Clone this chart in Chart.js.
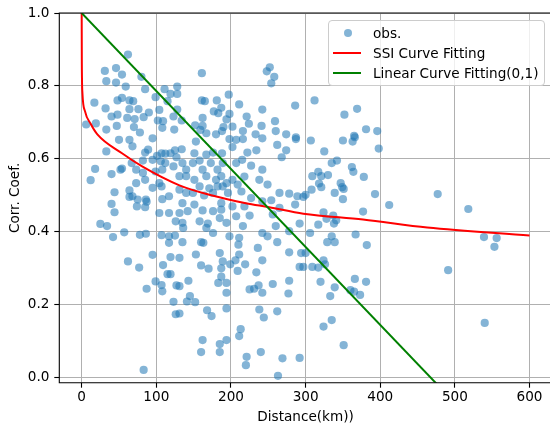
<!DOCTYPE html>
<html>
<head>
<meta charset="utf-8">
<script src="https://cdn.jsdelivr.net/npm/chart.js@4.4.0/dist/chart.umd.min.js"></script>
<style>
  html, body { margin: 0; padding: 0; background: #fff; overflow: hidden; }
  #wrap { position: relative; width: 550px; height: 428px; overflow: hidden; }
  #legend { position: absolute; left: 328px; top: 20px; width: 215px; height: 64px;
            border: 1px solid #cccccc; border-radius: 4px; background: rgba(255,255,255,0.8);
            font-family: 'DejaVu Sans'; font-size: 13.6px; color: #000; }
  #legend .row { position: absolute; left: 0; height: 20px; line-height: 20px; white-space: nowrap; }
  #legend .txt { position: absolute; left: 44px; top: 0; }
  #legend .dot { position: absolute; left: 15px; top: 6px; width: 8.2px; height: 8.2px; border-radius: 50%; }
  #legend .ln { position: absolute; left: 4px; top: 9px; width: 28px; height: 2px; }
</style>
</head>
<body>
<div id="wrap">
  <canvas id="chart" width="556" height="428"></canvas>
  <div id="legend"></div>
</div>
<script>
// observed correlation coefficient vs station distance
const obsDist = [
  62, 31, 46, 54, 80, 33, 46, 59, 85, 111, 119, 128, 99, 17, 48, 54, 64, 69, 32, 64,
  76, 90, 104, 115, 40, 48, 61, 71, 83, 102, 109, 123, 6, 19, 33, 47, 70, 78, 108, 124,
  161, 248, 252, 258, 254, 128, 128, 134, 197, 161, 165, 181, 187, 177, 183, 211, 242, 286, 198, 194,
  221, 224, 259, 162, 152, 162, 159, 190, 202, 188, 241, 216, 233, 260, 274, 287, 167, 180,
  312, 352, 369, 381, 396, 365,
  50, 64, 95, 68, 33, 85, 89, 82, 101, 107, 112, 119, 125, 127, 95, 106, 112, 123, 18, 12,
  40, 52, 54, 67, 73, 82, 85, 73, 95, 104, 107, 99, 108, 44, 64, 64, 68, 75, 74, 86,
  87, 85, 40, 44, 108, 117, 104, 117, 126, 25, 34, 42, 57, 78, 86, 107, 117, 117, 125, 95, 119,
  153, 134, 151, 167, 176, 188, 202, 222, 234, 262, 287, 274, 268, 198, 207, 216, 242, 135, 140, 149,
  158, 162, 173, 182, 189, 207, 215, 227, 242, 218, 238, 249, 265, 278, 289, 286, 131, 140, 151, 167,
  180, 187, 194, 202, 209, 158, 171, 182, 189, 131, 140, 149, 164, 176, 196, 214, 227, 242, 254, 135,
  151, 187, 202, 218, 256, 265, 131, 142, 162, 176, 187, 207, 225, 158, 135, 169, 185, 194, 216, 167,
  136, 260, 292, 176, 198, 211, 242, 249, 278, 135, 160, 163, 210, 236, 262, 153, 185, 211, 278, 294, 131,
  189, 206, 242,
  307, 350, 363, 366, 325, 398, 335, 342, 362, 364, 378, 309, 317, 321, 330, 318, 321, 308, 300, 297,
  339, 347, 349, 351, 350, 393, 412, 377, 324, 328, 337, 338, 341, 317, 306, 335, 329, 339, 367, 382,
  300, 324,
  477, 518, 539, 556, 553, 491, 540,
  62, 77, 87, 99, 107, 108, 109, 115, 119, 127, 123, 126, 83,
  160, 170, 187, 199, 209, 219, 234, 292, 131, 143, 183, 187, 194, 194, 225, 231, 237, 242, 256, 278,
  277, 145, 141, 152, 131, 168, 174, 194, 238, 244, 262, 213, 211, 162, 160, 185, 185, 194, 221, 220,
  240, 269, 292, 263,
  297, 309, 317, 326, 320, 339, 333, 366, 381, 360, 365, 373, 335, 324, 351
];
const obsCorr = [
  0.886, 0.841, 0.849, 0.831, 0.825, 0.813, 0.809, 0.798, 0.791, 0.791, 0.778, 0.798, 0.769, 0.754, 0.760, 0.767, 0.760, 0.758, 0.738, 0.736,
  0.736, 0.727, 0.734, 0.758, 0.716, 0.721, 0.712, 0.709, 0.714, 0.705, 0.703, 0.716, 0.694, 0.697, 0.680, 0.690, 0.687, 0.672, 0.685, 0.680,
  0.835, 0.840, 0.851, 0.825, 0.807, 0.778, 0.735, 0.705, 0.776, 0.760, 0.758, 0.760, 0.740, 0.730, 0.725, 0.749, 0.735, 0.746, 0.723, 0.708,
  0.716, 0.696, 0.703, 0.712, 0.692, 0.690, 0.679, 0.687, 0.688, 0.676, 0.690, 0.676, 0.667, 0.676, 0.667, 0.659, 0.670, 0.667,
  0.760, 0.721, 0.737, 0.681, 0.676, 0.663,
  0.652, 0.652, 0.656, 0.634, 0.620, 0.617, 0.625, 0.595, 0.608, 0.615, 0.614, 0.615, 0.623, 0.604, 0.597, 0.593, 0.588, 0.579, 0.572, 0.541,
  0.558, 0.570, 0.573, 0.588, 0.570, 0.561, 0.542, 0.533, 0.520, 0.533, 0.524, 0.565, 0.570, 0.508, 0.513, 0.495, 0.497, 0.488, 0.469, 0.488,
  0.482, 0.467, 0.476, 0.453, 0.489, 0.497, 0.451, 0.451, 0.428, 0.421, 0.415, 0.385, 0.398, 0.391, 0.394, 0.390, 0.369, 0.387, 0.389, 0.336, 0.330,
  0.647, 0.626, 0.615, 0.611, 0.617, 0.615, 0.632, 0.617, 0.623, 0.638, 0.654, 0.623, 0.604, 0.654, 0.652, 0.654, 0.656, 0.588, 0.570, 0.588,
  0.595, 0.570, 0.588, 0.570, 0.588, 0.588, 0.597, 0.581, 0.570, 0.551, 0.542, 0.529, 0.506, 0.504, 0.497, 0.474, 0.552, 0.552, 0.542, 0.552,
  0.542, 0.552, 0.533, 0.542, 0.529, 0.524, 0.519, 0.524, 0.524, 0.515, 0.506, 0.506, 0.499, 0.506, 0.506, 0.510, 0.492, 0.483, 0.486, 0.478,
  0.474, 0.478, 0.469, 0.469, 0.447, 0.465, 0.451, 0.456, 0.458, 0.456, 0.460, 0.442, 0.444, 0.428, 0.424, 0.422, 0.437, 0.424, 0.415, 0.410,
  0.410, 0.415, 0.422, 0.396, 0.387, 0.383, 0.396, 0.387, 0.401, 0.371, 0.371, 0.369, 0.364, 0.355, 0.371, 0.337, 0.341, 0.337, 0.343, 0.341, 0.328,
  0.318, 0.321, 0.321,
  0.650, 0.650, 0.647, 0.659, 0.620, 0.628, 0.588, 0.595, 0.577, 0.564, 0.550, 0.552, 0.564, 0.552, 0.555, 0.532, 0.522, 0.515, 0.501, 0.495,
  0.506, 0.533, 0.522, 0.517, 0.489, 0.503, 0.473, 0.455, 0.453, 0.435, 0.444, 0.422, 0.431, 0.419, 0.396, 0.387, 0.371, 0.371, 0.392, 0.363,
  0.341, 0.321,
  0.503, 0.462, 0.385, 0.382, 0.358, 0.294, 0.149,
  0.318, 0.301, 0.243, 0.263, 0.253, 0.236, 0.308, 0.283, 0.283, 0.252, 0.207, 0.173, 0.020,
  0.307, 0.298, 0.299, 0.310, 0.292, 0.310, 0.288, 0.303, 0.250, 0.265, 0.259, 0.276, 0.259, 0.232, 0.241, 0.243, 0.252, 0.232, 0.256, 0.265,
  0.230, 0.223, 0.208, 0.206, 0.175, 0.184, 0.168, 0.189, 0.186, 0.164, 0.181, 0.132, 0.113, 0.102, 0.069, 0.091, 0.069, 0.102, 0.056, 0.033,
  0.069, 0.052, 0.053, 0.004,
  0.303, 0.303, 0.301, 0.310, 0.262, 0.247, 0.223, 0.270, 0.262, 0.239, 0.235, 0.226, 0.157, 0.139, 0.088
];

// fitted curves
const ssiDist = [0, 0.2, 1, 4.5, 12, 21, 54, 81, 131, 175, 220, 251, 297, 377, 463, 600];
const ssiCorr = [1.0, 0.86, 0.78, 0.73, 0.696, 0.667, 0.615, 0.579, 0.527, 0.499, 0.478, 0.467, 0.449, 0.433, 0.411, 0.389];
const linDist = [0, 490];
const linCorr = [1.0, -0.049];

const xTickValues = [0, 100, 200, 300, 400, 500, 600];
const yTickValues = [0.0, 0.2, 0.4, 0.6, 0.8, 1.0];

const toPoints = (xs, ys) => xs.map((x, i) => ({ x: x, y: ys[i] }));

// black spines on left, top and bottom (the right one falls outside the picture)
const framePlugin = {
    id: 'frame',
    afterDatasetsDraw(chart) {
        const { ctx, chartArea: a } = chart;
        ctx.save();
        ctx.strokeStyle = '#000';
        ctx.lineWidth = 1.1;
        ctx.beginPath();
        ctx.moveTo(a.right + 5, a.top);
        ctx.lineTo(a.left, a.top);
        ctx.lineTo(a.left, a.bottom);
        ctx.lineTo(a.right + 5, a.bottom);
        ctx.stroke();
        ctx.restore();
    }
};

// html legend built from the datasets
const htmlLegend = {
    id: 'htmlLegend',
    afterUpdate(chart) {
        const box = document.getElementById('legend');
        box.innerHTML = '';
        chart.data.datasets.forEach((ds, i) => {
            const row = document.createElement('div');
            row.className = 'row';
            row.style.top = (2 + i * 19.8) + 'px';
            const mark = document.createElement('span');
            if (ds.showLine) {
                mark.className = 'ln';
                mark.style.background = ds.borderColor;
            } else {
                mark.className = 'dot';
                mark.style.background = ds.backgroundColor;
            }
            const txt = document.createElement('span');
            txt.className = 'txt';
            txt.textContent = ds.label;
            row.appendChild(mark);
            row.appendChild(txt);
            box.appendChild(row);
        });
    }
};

Chart.defaults.font.family = "'DejaVu Sans'";
Chart.defaults.font.size = 13.6;
Chart.defaults.color = '#000';

const ctx = document.getElementById('chart').getContext('2d');
new Chart(ctx, {
    type: 'scatter',
    data: {
        datasets: [
            {
                label: 'obs.',
                data: toPoints(obsDist, obsCorr),
                backgroundColor: 'rgba(31, 119, 180, 0.55)',
                borderWidth: 0,
                pointRadius: 4.1,
                order: 2
            },
            {
                label: 'SSI Curve Fitting',
                data: toPoints(ssiDist, ssiCorr),
                showLine: true,
                borderColor: '#ff0000',
                borderWidth: 2,
                pointRadius: 0,
                cubicInterpolationMode: 'monotone',
                order: 1
            },
            {
                label: 'Linear Curve Fitting(0,1)',
                data: toPoints(linDist, linCorr),
                showLine: true,
                borderColor: '#008000',
                borderWidth: 2,
                pointRadius: 0,
                order: 0
            }
        ]
    },
    options: {
        responsive: false,
        animation: false,
        events: [],
        layout: { padding: { top: 12.5, right: 3, left: 0, bottom: 0 } },
        plugins: {
            legend: { display: false },
            tooltip: { enabled: false }
        },
        scales: {
            x: {
                type: 'linear',
                min: -30,
                max: 630,
                afterFit: (scale) => { scale.height = 45.3; },
                afterBuildTicks: (scale) => { scale.ticks = xTickValues.map(v => ({ value: v })); },
                ticks: { padding: 2, maxRotation: 0 },
                grid: { color: '#b0b0b0', lineWidth: 1, tickColor: '#000', tickLength: 5, tickWidth: 1.1 },
                border: { display: false },
                title: { display: true, text: 'Distance(km))', padding: { top: 0, bottom: 2.8 } }
            },
            y: {
                type: 'linear',
                min: -0.015,
                max: 1.0,
                afterFit: (scale) => { scale.width = 59.3; },
                afterBuildTicks: (scale) => { scale.ticks = yTickValues.map(v => ({ value: v })); },
                ticks: { padding: 4.9, callback: (v) => v.toFixed(1) },
                grid: { color: '#b0b0b0', lineWidth: 1, tickColor: '#000', tickLength: 5, tickWidth: 1.1 },
                border: { display: false },
                title: { display: true, text: 'Corr. Coef.', padding: { top: 7.2, bottom: 0 } }
            }
        }
    },
    plugins: [framePlugin, htmlLegend]
});
</script>
</body>
</html>
